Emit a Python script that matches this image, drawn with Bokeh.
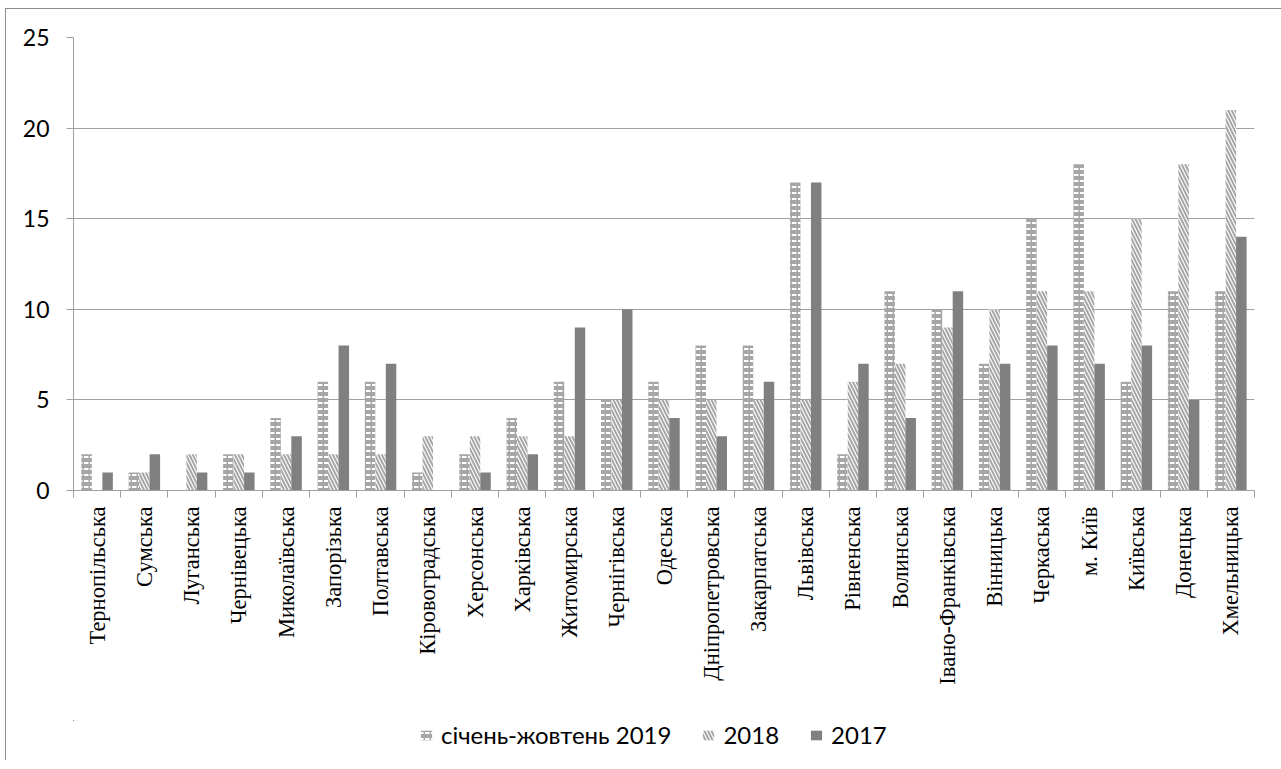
import math
from bokeh.plotting import figure
from bokeh.layouts import column
from bokeh.models import (ColumnDataSource, Range1d, FixedTicker, CustomJSTickFormatter,
                          Legend, LegendItem, InlineStyleSheet)
from bokeh.embed import file_html
from bokeh.resources import INLINE

regions = ["Тернопільська", "Сумська", "Луганська", "Чернівецька", "Миколаївська",
           "Запорізька", "Полтавська", "Кіровоградська", "Херсонська", "Харківська",
           "Житомирська", "Чернігівська", "Одеська", "Дніпропетровська", "Закарпатська",
           "Львівська", "Рівненська", "Волинська", "Івано-Франківська", "Вінницька",
           "Черкаська", "м. Київ", "Київська", "Донецька", "Хмельницька"]
v2019 = [2, 1, 0, 2, 4, 6, 6, 1, 2, 4, 6, 5, 6, 8, 8, 17, 2, 11, 10, 7, 15, 18, 6, 11, 11]
v2018 = [0, 1, 2, 2, 2, 2, 2, 3, 3, 3, 3, 5, 5, 5, 5, 5, 6, 7, 9, 10, 11, 11, 15, 18, 21]
v2017 = [1, 2, 1, 1, 3, 8, 7, 0, 1, 2, 9, 10, 4, 3, 6, 17, 7, 4, 11, 7, 8, 7, 8, 5, 14]
series_names = ["січень-жовтень 2019", "2018", "2017"]
y_ticks = [0, 5, 10, 15, 20, 25]

GRID = "#a0a0a0"
n = len(regions)
bw = 0.222

style19 = dict(fill_color="#a6a6a6", line_color=None, hatch_pattern="horizontal_dash",
               hatch_color="white", hatch_scale=6, hatch_weight=2)
style18 = dict(fill_color="white", line_color=None, hatch_pattern="left_diagonal_line",
               hatch_color="#a6a6a6", hatch_scale=7, hatch_weight=2)
style17 = dict(fill_color="#808080", line_color=None)

p = figure(width=1275, height=711, output_backend="svg", toolbar_location=None,
           x_range=Range1d(0, n), y_range=Range1d(0, 25),
           min_border_left=67, min_border_right=27, min_border_top=28, min_border_bottom=230)
p.outline_line_color = None
p.background_fill_color = "white"
p.border_fill_color = "white"

idx = list(range(n))
src = ColumnDataSource(dict(
    x19=[i + 0.5 - bw for i in idx], x18=[i + 0.5 for i in idx], x17=[i + 0.5 + bw for i in idx],
    v19=v2019, v18=v2018, v17=v2017))

p.vbar(x="x19", top="v19", width=bw, source=src, **style19)
p.vbar(x="x18", top="v18", width=bw, source=src, **style18)
p.vbar(x="x17", top="v17", width=bw, source=src, **style17)

# y axis
p.yaxis.ticker = FixedTicker(ticks=y_ticks)
p.yaxis.axis_line_color = GRID
p.yaxis.major_tick_line_color = GRID
p.yaxis.major_tick_out = 7
p.yaxis.major_tick_in = 0
p.yaxis.minor_tick_line_color = None
p.yaxis.major_label_text_font = "Lato"
p.yaxis.major_label_text_font_size = "23px"
p.yaxis.major_label_text_color = "black"
p.yaxis.major_label_standoff = 17

p.ygrid.grid_line_color = GRID
p.xgrid.grid_line_color = None

# x axis
p.xaxis.ticker = FixedTicker(ticks=[i + 0.5 for i in idx], minor_ticks=list(range(n + 1)))
p.xaxis.formatter = CustomJSTickFormatter(args=dict(names=regions),
                                          code="return names[Math.floor(tick)] || '';")
p.xaxis.axis_line_color = GRID
p.xaxis.major_tick_out = 0
p.xaxis.major_tick_in = 0
p.xaxis.minor_tick_out = 7
p.xaxis.minor_tick_in = 0
p.xaxis.minor_tick_line_color = GRID
p.xaxis.major_label_orientation = math.pi / 2
p.xaxis.major_label_text_font = "Liberation Serif"
p.xaxis.major_label_text_font_size = "22.5px"
p.xaxis.major_label_text_color = "black"
p.xaxis.major_label_standoff = 9

# legend strip (legend proxies share the same data; the strip's ranges keep them off-screen)
p2 = figure(width=1275, height=40, output_backend="svg", toolbar_location=None,
            x_range=Range1d(1000, 1001), y_range=Range1d(-2, -1),
            x_axis_location=None, y_axis_location=None, min_border=0)
p2.outline_line_color = None
p2.xgrid.grid_line_color = None
p2.ygrid.grid_line_color = None
l19 = p2.vbar(x="x19", top="v19", width=bw, source=src, **style19)
l18 = p2.vbar(x="x18", top="v18", width=bw, source=src, **style18)
l17 = p2.vbar(x="x17", top="v17", width=bw, source=src, **style17)

legend = Legend(items=[LegendItem(label=series_names[0], renderers=[l19]),
                       LegendItem(label=series_names[1], renderers=[l18]),
                       LegendItem(label=series_names[2], renderers=[l17])],
                orientation="horizontal", location=(346, 11))
legend.border_line_color = None
legend.background_fill_alpha = 0
legend.label_text_font = "Lato"
legend.label_text_font_size = "24px"
legend.label_text_color = "black"
legend.glyph_width = 14
legend.glyph_height = 12
legend.label_standoff = 8
legend.spacing = 30
legend.padding = 0
legend.margin = 0
p2.add_layout(legend, "center")

layout = column(p, p2, spacing=0)
layout.stylesheets = [InlineStyleSheet(css=":host { border-left: 1px solid #8c8c8c; border-top: 1px solid #8c8c8c; margin-left: 5px; margin-top: 8px; }")]

open("out.html", "w").write(file_html(layout, INLINE))
